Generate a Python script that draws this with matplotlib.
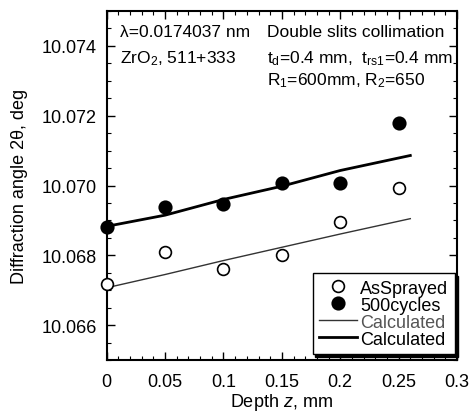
import matplotlib
matplotlib.use("Agg")
import matplotlib.pyplot as plt
from matplotlib.ticker import MultipleLocator, FixedLocator
from matplotlib.lines import Line2D

plt.rcParams['font.family'] = ['Liberation Sans', 'DejaVu Sans']
plt.rcParams['mathtext.fontset'] = 'custom'
plt.rcParams['mathtext.rm'] = 'Liberation Sans'
plt.rcParams['mathtext.it'] = 'Liberation Sans:italic'

# data
depth = [0, 0.05, 0.1, 0.15, 0.2, 0.25]
as_sprayed = [10.06719, 10.06809, 10.06760, 10.06801, 10.06896, 10.06993]
cycles500 = [10.06880, 10.06937, 10.06946, 10.07008, 10.07006, 10.07178]
calc_depth = [0, 0.05, 0.1, 0.15, 0.2, 0.26]
calc_thin = [10.06707, 10.06745, 10.06785, 10.06823, 10.06861, 10.06905]
calc_thick = [10.06883, 10.06915, 10.06960, 10.06998, 10.07043, 10.07086]
xticks = [0, 0.05, 0.1, 0.15, 0.2, 0.25, 0.3]
xticklabels = ['0', '0.05', '0.1', '0.15', '0.2', '0.25', '0.3']
yticks = [10.066, 10.068, 10.070, 10.072, 10.074]
yticklabels = ['10.066', '10.068', '10.070', '10.072', '10.074']

fig = plt.figure(figsize=(4.73, 4.14), dpi=100)
ax = fig.add_axes([0.2256, 0.128, 0.7406, 0.843])

ax.plot(calc_depth, calc_thin, color='#333333', lw=1.0, zorder=2)
ax.plot(calc_depth, calc_thick, color='black', lw=2.0, zorder=2)
ax.plot(depth, as_sprayed, 'o', ms=8.5, mfc='white', mec='black', mew=1.2,
        clip_on=False, zorder=3)
ax.plot(depth, cycles500, 'o', ms=9, mfc='black', mec='black', mew=1.2,
        clip_on=False, zorder=3)

ax.set_xlim(0, 0.3)
ax.set_ylim(10.065, 10.075)
ax.xaxis.set_major_locator(FixedLocator(xticks))
ax.set_xticklabels(xticklabels)
ax.xaxis.set_minor_locator(MultipleLocator(0.01))
ax.yaxis.set_major_locator(FixedLocator(yticks))
ax.set_yticklabels(yticklabels)
ax.yaxis.set_minor_locator(MultipleLocator(0.0005))
ax.tick_params(which='both', direction='in', top=True, right=True,
               labelsize=13, color='black')
ax.tick_params(which='major', length=6, width=1.0)
ax.tick_params(axis='x', which='major', pad=9)
ax.tick_params(axis='y', which='major', pad=7)
ax.tick_params(which='minor', length=3, width=0.8)
for s in ax.spines.values():
    s.set_linewidth(1.5)

ax.set_xlabel(r'Depth $\mathit{z}$, mm', fontsize=13, labelpad=1)
ax.set_ylabel('Diffraction angle 2θ, deg', fontsize=13, labelpad=10)

tx = dict(fontsize=12.5, transform=ax.transAxes, va='baseline', ha='left')
def axy(ypx):
    return (414 - ypx - 53) / (0.843 * 414)
def axx(xpx):
    return (xpx - 106.7) / (0.7406 * 473)
ax.text(axx(120), axy(37), 'λ=0.0174037 nm', **tx)
ax.text(axx(120), axy(63), r'ZrO$_2$, 511+333', **tx)
ax.text(axx(267), axy(37), 'Double slits collimation', **tx)
ax.text(axx(267), axy(63), r't$_{\rm d}$=0.4 mm,  t$_{\rm rs1}$=0.4 mm', **tx)
ax.text(axx(267), axy(85), r'R$_1$=600mm, R$_2$=650', **tx)

handles = [
    Line2D([], [], ls='none', marker='o', ms=8.5, mfc='white', mec='black', mew=1.2),
    Line2D([], [], ls='none', marker='o', ms=9, mfc='black', mec='black', mew=1.2),
    Line2D([], [], color='#333333', lw=1.0),
    Line2D([], [], color='black', lw=2.0),
]
labels = ['AsSprayed', '500cycles', 'Calculated', 'Calculated']
leg = ax.legend(handles, labels, loc='lower right', bbox_to_anchor=(0.994, 0.017),
                fontsize=13, frameon=True, fancybox=False,
                shadow={'color': 'black', 'alpha': 1},
                labelspacing=0.0, handlelength=2.1, handletextpad=0.2,
                borderpad=0.35, borderaxespad=0.0)
leg.get_frame().set_edgecolor('black')
leg.get_frame().set_linewidth(1.0)
leg.get_texts()[2].set_color('#555555')

fig.savefig('out.png', dpi=100)
